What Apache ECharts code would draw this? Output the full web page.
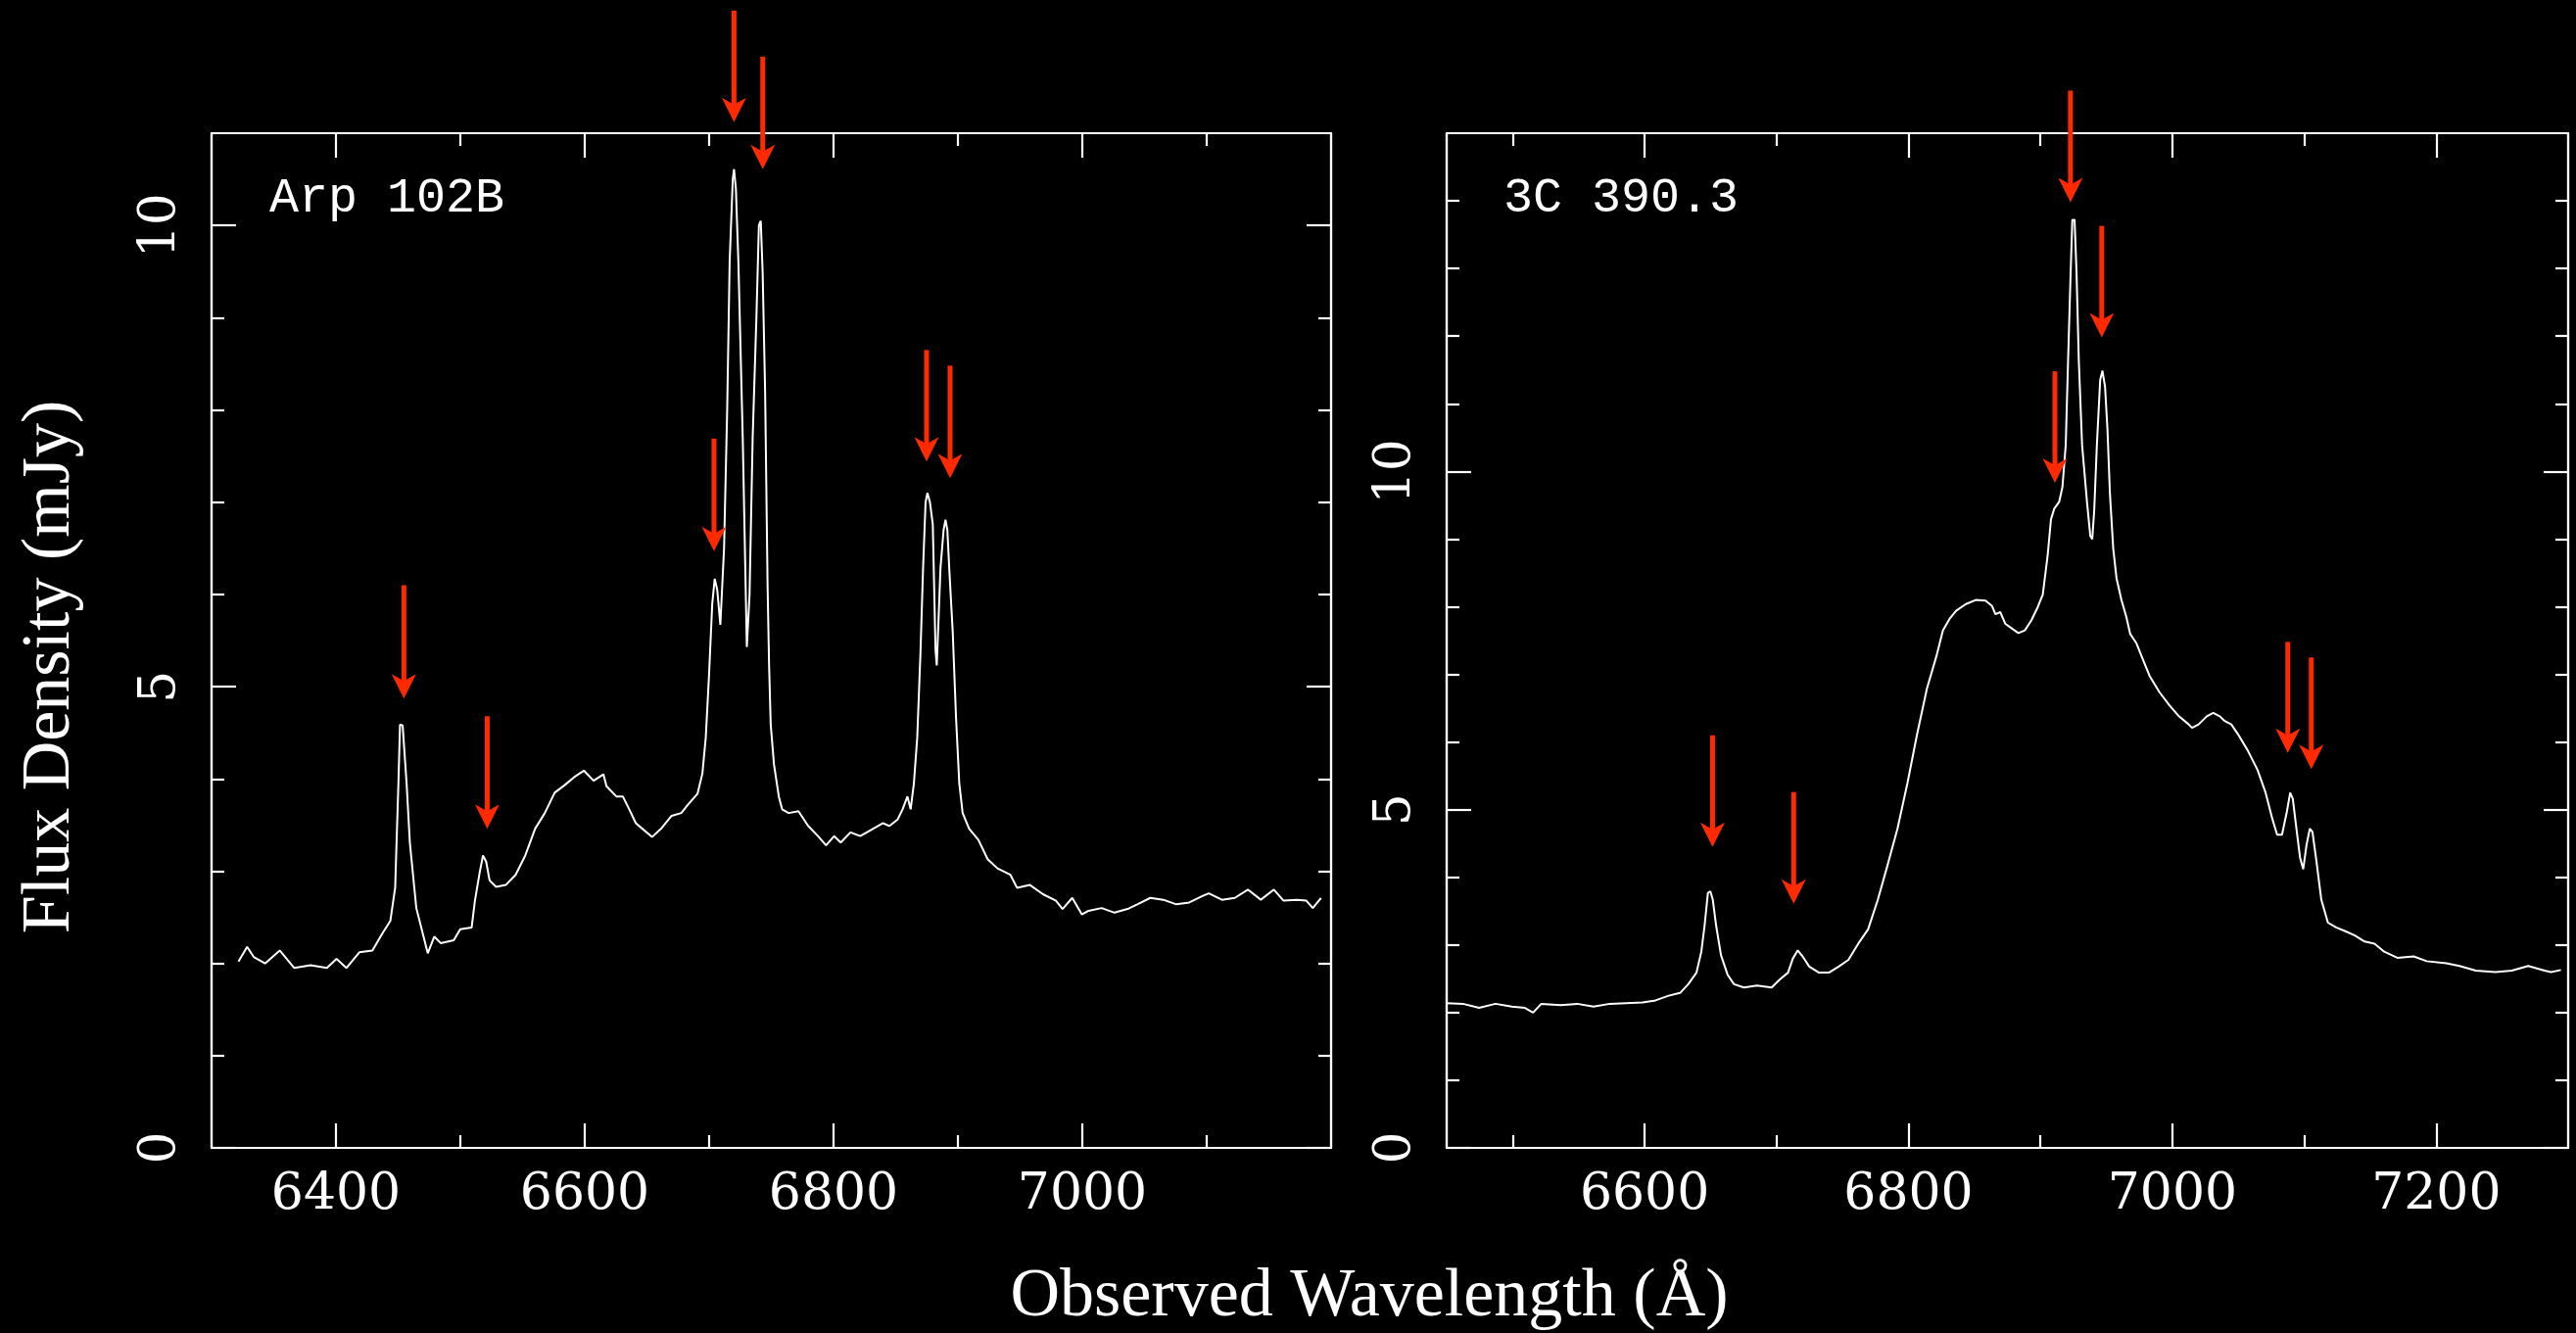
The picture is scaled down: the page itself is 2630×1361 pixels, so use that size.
<!DOCTYPE html>
<html>
<head>
<meta charset="utf-8">
<script src="https://cdn.jsdelivr.net/npm/echarts@6/dist/echarts.min.js"></script>
<style>
html,body{margin:0;padding:0;background:#000;}
#chart{width:2630px;height:1361px;}
</style>
</head>
<body>
<div id="chart"></div>
<script>
// ---------------- DATA ----------------
const arpWave = [6321.6,6328.6,6333.9,6343.0,6354.8,6366.5,6379.6,6392.7,6400.5,6408.4,6418.8,6429.3,6437.1,6443.7,6447.6,6450.2,6451.5,6453.6,6456.8,6459.4,6464.6,6473.8,6479.0,6484.2,6494.7,6499.9,6509.1,6511.7,6515.6,6518.2,6520.8,6523.5,6528.7,6536.5,6544.4,6552.2,6560.1,6567.9,6575.8,6583.6,6591.5,6599.3,6607.1,6615.0,6617.5,6625.4,6630.6,6635.8,6641.1,6646.3,6654.1,6662.0,6669.8,6677.6,6682.9,6690.7,6694.6,6697.3,6699.9,6702.5,6704.5,6706.5,6709.0,6712.0,6714.5,6716.5,6719.0,6720.0,6721.5,6723.5,6727.0,6730.3,6732.5,6735.0,6738.0,6740.0,6741.5,6743.0,6745.0,6747.0,6748.2,6749.5,6752.1,6756.0,6758.7,6763.9,6771.8,6779.6,6787.5,6794.0,6800.5,6805.8,6813.6,6821.5,6831.9,6839.8,6845.0,6851.5,6855.5,6859.4,6862.0,6864.6,6867.3,6869.9,6872.0,6874.0,6875.5,6877.5,6879.8,6882.0,6883.0,6886.0,6888.5,6890.0,6891.5,6893.0,6895.8,6898.5,6901.1,6903.8,6909.0,6916.4,6923.9,6931.8,6942.2,6947.5,6957.9,6968.4,6978.8,6984.1,6991.9,6999.7,7005.0,7015.5,7025.9,7036.4,7044.2,7054.7,7065.1,7075.6,7086.0,7096.5,7101.7,7112.2,7122.6,7133.1,7143.5,7154.0,7161.8,7172.3,7180.1,7185.3,7191.9];
const arpFlux = [2.02,2.18,2.07,2.00,2.14,1.95,1.98,1.95,2.05,1.95,2.12,2.14,2.32,2.46,2.82,3.95,4.59,4.58,3.95,3.31,2.60,2.11,2.29,2.22,2.25,2.37,2.39,2.68,2.99,3.17,3.10,2.90,2.83,2.85,2.96,3.17,3.46,3.63,3.85,3.93,4.02,4.09,3.98,4.05,3.92,3.81,3.81,3.67,3.52,3.46,3.37,3.47,3.60,3.63,3.72,3.84,4.06,4.45,5.12,5.90,6.17,6.05,5.67,6.50,8.00,9.61,10.50,10.61,10.40,9.61,7.71,5.43,6.00,7.70,9.00,10.00,10.05,9.50,8.20,6.08,5.23,4.59,4.16,3.81,3.67,3.63,3.65,3.49,3.38,3.28,3.38,3.31,3.42,3.38,3.46,3.52,3.49,3.56,3.67,3.81,3.67,3.95,4.45,5.37,6.29,7.00,7.10,7.00,6.76,5.40,5.23,6.29,6.70,6.81,6.70,6.29,5.60,4.66,3.95,3.63,3.46,3.34,3.13,3.03,2.96,2.82,2.85,2.75,2.68,2.59,2.71,2.53,2.57,2.60,2.55,2.59,2.64,2.71,2.69,2.64,2.66,2.73,2.76,2.69,2.71,2.80,2.69,2.80,2.68,2.69,2.68,2.60,2.71];

const c390Wave = [6449.9,6462.3,6474.6,6487.0,6499.4,6509.3,6515.5,6521.7,6536.5,6548.9,6561.3,6573.7,6586.1,6598.4,6608.3,6618.2,6626.9,6633.1,6639.3,6643.0,6645.5,6648.0,6649.9,6651.7,6654.2,6657.9,6662.9,6667.8,6675.3,6685.2,6696.3,6702.5,6708.7,6712.4,6716.1,6719.8,6724.8,6732.2,6739.6,6747.1,6754.5,6763.0,6769.4,6776.8,6784.3,6791.7,6799.2,6806.6,6814.0,6821.2,6826.1,6831.1,6836.1,6843.5,6851.0,6858.4,6863.4,6865.9,6869.6,6873.3,6878.3,6883.3,6888.2,6893.2,6898.1,6901.8,6905.5,6908.0,6910.5,6914.2,6916.7,6919.2,6920.9,6922.9,6924.2,6925.9,6927.4,6929.1,6931.6,6935.4,6937.8,6939.3,6940.8,6942.8,6945.3,6947.0,6949.0,6950.8,6952.7,6955.2,6957.7,6961.4,6965.1,6968.0,6972.8,6977.7,6982.7,6990.1,6997.5,7005.0,7012.4,7014.9,7019.9,7026.1,7031.0,7036.0,7039.7,7044.7,7049.6,7057.0,7064.5,7070.7,7075.7,7079.4,7083.1,7086.8,7089.3,7091.3,7094.3,7096.8,7099.2,7101.7,7104.2,7106.2,7109.2,7112.9,7117.9,7124.1,7131.5,7138.3,7145.7,7153.2,7160.6,7170.5,7182.9,7192.8,7207.7,7217.6,7230.0,7244.9,7257.3,7269.7,7282.1,7287.0,7294.5];
const c390Flux = [2.14,2.13,2.07,2.13,2.09,2.07,2.00,2.13,2.11,2.13,2.09,2.13,2.14,2.15,2.18,2.25,2.29,2.42,2.59,2.90,3.29,3.77,3.79,3.67,3.29,2.85,2.56,2.42,2.37,2.40,2.37,2.49,2.59,2.80,2.92,2.83,2.68,2.59,2.59,2.68,2.78,3.05,3.23,3.67,4.19,4.72,5.39,6.12,6.79,7.27,7.65,7.82,7.94,8.04,8.10,8.09,8.01,7.89,7.92,7.75,7.68,7.61,7.65,7.80,8.00,8.18,8.76,9.29,9.45,9.55,9.77,10.39,11.59,12.93,13.72,13.72,12.93,11.64,10.39,9.53,9.05,9.00,9.43,10.39,11.35,11.49,11.25,10.63,9.67,8.86,8.42,8.10,7.85,7.60,7.46,7.22,6.98,6.74,6.55,6.38,6.26,6.21,6.26,6.38,6.43,6.38,6.31,6.26,6.12,5.88,5.59,5.25,4.87,4.63,4.63,4.97,5.25,5.16,4.68,4.29,4.12,4.48,4.72,4.67,4.24,3.67,3.33,3.26,3.20,3.14,3.05,3.02,2.90,2.81,2.83,2.76,2.73,2.69,2.62,2.60,2.62,2.69,2.62,2.60,2.63];

// arrows: wavelength, flux at tail, flux at tip
const arpArrowWave = [6454.6,6521.6,6703.9,6720.0,6743.1,6874.8,6893.7];
const arpArrowTop  = [6.10,4.68,7.69,12.33,11.83,8.65,8.48];
const arpArrowTip  = [4.87,3.46,6.47,11.12,10.61,7.44,7.26];
const c390ArrowWave = [6651.5,6713.0,6911.0,6922.8,6946.5,7087.5,7105.3];
const c390ArrowTop  = [6.10,5.26,11.48,15.63,13.63,7.48,7.25];
const c390ArrowTip  = [4.45,3.61,9.83,13.98,11.98,5.84,5.60];

// axes
const arpXRange = [6300, 7200];
const arpYRange = [0, 11];
const c390XRange = [6450, 7300];
const c390YRange = [0, 15];
const arpXLabels = [6400, 6600, 6800, 7000];
const arpXMinor = [6500, 6700, 6900, 7100];
const c390XLabels = [6600, 6800, 7000, 7200];
const c390XMinor = [6500, 6700, 6900, 7100];
const arpYLabels = [0, 5, 10];
const arpYMinor = [1, 2, 3, 4, 6, 7, 8, 9];
const c390YLabels = [0, 5, 10];
const c390YMinor = [1, 2, 3, 4, 6, 7, 8, 9, 11, 12, 13, 14];

const panelNames = ['Arp 102B', '3C 390.3'];
const xTitle = 'Observed Wavelength (Å)';
const yTitle = 'Flux Density (mJy)';

// ---------------- BUILD ----------------
const WHITE = '#ffffff';
const RED = '#ff2a00';
const LW = 2.2;
const tickFont = '"DejaVu Serif", "Liberation Serif", serif';

function zip(a, b) { return a.map((v, i) => [v, b[i]]); }
function zip3(a, b, c) { return a.map((v, i) => [v, b[i], c[i]]); }
function plain(v) { return String(v); }

function xAxisDef(grid, pos, range, ticks, len, labels) {
  return {
    type: 'value', gridIndex: grid, position: pos, min: range[0], max: range[1],
    splitLine: { show: false },
    axisLine: { show: true, onZero: false, lineStyle: { color: WHITE, width: LW } },
    axisTick: { show: true, inside: true, length: len, customValues: ticks, lineStyle: { color: WHITE, width: LW } },
    axisLabel: labels ? { show: true, customValues: labels, formatter: plain, color: WHITE, fontFamily: tickFont, fontSize: 52, margin: 22 } : { show: false }
  };
}
function yAxisDef(grid, pos, range, ticks, len, labels) {
  return {
    type: 'value', gridIndex: grid, position: pos, min: range[0], max: range[1],
    splitLine: { show: false },
    axisLine: { show: true, onZero: false, lineStyle: { color: WHITE, width: LW } },
    axisTick: { show: true, inside: true, length: len, customValues: ticks, lineStyle: { color: WHITE, width: LW } },
    axisLabel: labels ? { show: true, customValues: labels, formatter: plain, rotate: 90, color: WHITE, fontFamily: tickFont, fontSize: 52, margin: 26 } : { show: false }
  };
}

function arrowRender(params, api) {
  const tail = api.coord([api.value(0), api.value(1)]);
  const tip = api.coord([api.value(0), api.value(2)]);
  const x = tip[0];
  const hl = 25, hw = 12.5, notch = 7;
  return {
    type: 'group',
    children: [
      { type: 'line', shape: { x1: x, y1: tail[1], x2: x, y2: tip[1] - hl + notch + 1 }, style: { stroke: RED, lineWidth: 5 } },
      { type: 'polygon', shape: { points: [[x - hw, tip[1] - hl], [x, tip[1] - hl + notch], [x + hw, tip[1] - hl], [x, tip[1]]] }, style: { fill: RED } }
    ]
  };
}

const xAxes = [
  xAxisDef(0, 'bottom', arpXRange, arpXLabels, 25, arpXLabels),
  xAxisDef(0, 'bottom', arpXRange, arpXMinor, 13, null),
  xAxisDef(0, 'top', arpXRange, arpXLabels, 25, null),
  xAxisDef(0, 'top', arpXRange, arpXMinor, 13, null),
  xAxisDef(1, 'bottom', c390XRange, c390XLabels, 25, c390XLabels),
  xAxisDef(1, 'bottom', c390XRange, c390XMinor, 13, null),
  xAxisDef(1, 'top', c390XRange, c390XLabels, 25, null),
  xAxisDef(1, 'top', c390XRange, c390XMinor, 13, null)
];
const yAxes = [
  yAxisDef(0, 'left', arpYRange, arpYLabels, 25, arpYLabels),
  yAxisDef(0, 'left', arpYRange, arpYMinor, 13, null),
  yAxisDef(0, 'right', arpYRange, arpYLabels, 25, null),
  yAxisDef(0, 'right', arpYRange, arpYMinor, 13, null),
  yAxisDef(1, 'left', c390YRange, c390YLabels, 25, c390YLabels),
  yAxisDef(1, 'left', c390YRange, c390YMinor, 13, null),
  yAxisDef(1, 'right', c390YRange, c390YLabels, 25, null),
  yAxisDef(1, 'right', c390YRange, c390YMinor, 13, null)
];

const option = {
  backgroundColor: '#000000',
  animation: false,
  grid: [
    { left: 216, top: 136, width: 1143, height: 1036, containLabel: false, outerBoundsMode: 'none' },
    { left: 1477, top: 136, width: 1145, height: 1036, containLabel: false, outerBoundsMode: 'none' }
  ],
  xAxis: xAxes,
  yAxis: yAxes,
  series: [
    { type: 'line', xAxisIndex: 0, yAxisIndex: 0, data: zip(arpWave, arpFlux), showSymbol: false, symbol: 'none',
      lineStyle: { color: WHITE, width: 2 }, clip: true },
    { type: 'line', xAxisIndex: 4, yAxisIndex: 4, data: zip(c390Wave, c390Flux), showSymbol: false, symbol: 'none',
      lineStyle: { color: WHITE, width: 2 }, clip: true },
    { type: 'custom', xAxisIndex: 0, yAxisIndex: 0, data: zip3(arpArrowWave, arpArrowTop, arpArrowTip),
      encode: { x: 0, y: [1, 2] }, renderItem: arrowRender, clip: false, z: 5 },
    { type: 'custom', xAxisIndex: 4, yAxisIndex: 4, data: zip3(c390ArrowWave, c390ArrowTop, c390ArrowTip),
      encode: { x: 0, y: [1, 2] }, renderItem: arrowRender, clip: false, z: 5 }
  ],
  graphic: [
    { type: 'text', left: 275, top: 178, style: { text: panelNames[0], fill: WHITE, font: '50px "Liberation Mono", "DejaVu Sans Mono", monospace' } },
    { type: 'text', left: 1535, top: 178, style: { text: panelNames[1], fill: WHITE, font: '50px "Liberation Mono", "DejaVu Sans Mono", monospace' } },
    { type: 'text', x: 1398, y: 1325, style: { text: xTitle, fill: WHITE, font: '70px "Liberation Serif", "Times New Roman", serif', textAlign: 'center', textVerticalAlign: 'middle' } },
    { type: 'text', x: 52, y: 681, rotation: Math.PI / 2, style: { text: yTitle, fill: WHITE, font: '70px "Liberation Serif", "Times New Roman", serif', textAlign: 'center', textVerticalAlign: 'middle' } }
  ]
};

const chart = echarts.init(document.getElementById('chart'), null, { renderer: 'canvas' });
chart.setOption(option);
</script>
</body>
</html>
